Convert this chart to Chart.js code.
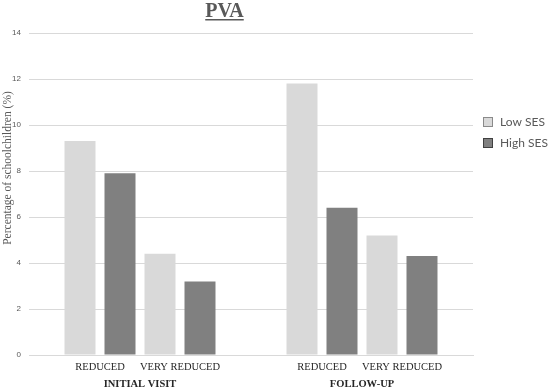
<!DOCTYPE html>
<html><head><meta charset="utf-8">
<script src="https://cdn.jsdelivr.net/npm/chart.js@4"></script>
<style>html,body{margin:0;padding:0;background:#fff}#wrap{width:550px;height:391px}</style>
</head><body><div id="wrap"><canvas id="c" width="550" height="391"></canvas></div>
<script>
// ---- data ----
const groups = ["INITIAL VISIT", "FOLLOW-UP"];
const subcategories = ["REDUCED", "VERY REDUCED"];
const seriesNames = ["Low SES", "High SES"];
// order: [group0-sub0, group0-sub1, group1-sub0, group1-sub1]
const lowSES = [9.3, 4.4, 11.8, 5.2];
const highSES = [7.9, 3.2, 6.4, 4.3];
const yTicks = [0, 2, 4, 6, 8, 10, 12, 14];
const chartTitle = "PVA";
const yTitle = "Percentage of schoolchildren (%)";

// ---- styles ----
const seriesColors = ["#d9d9d9", "#808080"];
const legendBorders = ["#8a8a8a", "#404040"];
const seriesValues = [lowSES, highSES];

const datasets = [];
subcategories.forEach((sub, s) => {
  seriesNames.forEach((name, k) => {
    datasets.push({
      label: name + " - " + sub,
      data: groups.map((g, gi) => seriesValues[k][gi * subcategories.length + s]),
      backgroundColor: seriesColors[k],
      borderWidth: 0,
      categoryPercentage: 0.7207,
      barPercentage: 0.775
    });
  });
});

const textGray = "#595959";

const decor = {
  id: "decor",
  afterDraw(chart) {
    const ctx = chart.ctx;
    const ca = chart.chartArea;
    ctx.save();
    // title
    ctx.font = "bold 20px 'Liberation Serif'";
    ctx.fillStyle = textGray;
    ctx.textAlign = "center";
    ctx.textBaseline = "alphabetic";
    const tx = 224.5, ty = 17;
    ctx.fillText(chartTitle, tx, ty);
    const w = ctx.measureText(chartTitle).width;
    ctx.fillRect(tx - w / 2, ty + 2, w, 1.5);
    // y title
    ctx.save();
    ctx.translate(8, 168);
    ctx.rotate(-Math.PI / 2);
    ctx.font = "11.5px 'Liberation Serif'";
    ctx.textBaseline = "middle";
    ctx.fillText(yTitle, 0, 0);
    ctx.restore();
    // subcategory labels
    ctx.font = "10.5px 'Liberation Serif'";
    ctx.fillStyle = "#262626";
    ctx.textBaseline = "middle";
    groups.forEach((g, gi) => {
      subcategories.forEach((sub, s) => {
        const a = chart.getDatasetMeta(s * seriesNames.length).data[gi];
        const b = chart.getDatasetMeta(s * seriesNames.length + seriesNames.length - 1).data[gi];
        ctx.fillText(sub, (a.x + b.x) / 2, ca.bottom + 12);
      });
    });
    // legend
    ctx.font = "12px Lato";
    ctx.textAlign = "left";
    seriesNames.forEach((name, k) => {
      const y = 117 + k * 21;
      ctx.fillStyle = seriesColors[k];
      ctx.fillRect(483, y, 10, 10);
      ctx.strokeStyle = legendBorders[k];
      ctx.lineWidth = 1;
      ctx.strokeRect(483.5, y + 0.5, 9, 9);
      ctx.fillStyle = textGray;
      ctx.fillText(name, 500, y + 5.5);
    });
    ctx.restore();
  }
};

new Chart(document.getElementById("c"), {
  type: "bar",
  data: { labels: groups, datasets },
  options: {
    responsive: false,
    animation: false,
    layout: { padding: { top: 33, right: 77, left: 0, bottom: 0 } },
    plugins: { legend: { display: false }, tooltip: { enabled: false }, title: { display: false } },
    scales: {
      x: {
        grid: { display: false, drawTicks: false },
        border: { display: true, color: "#d9d9d9", width: 1 },
        ticks: { font: { family: "'Liberation Serif'", size: 10.5, weight: "bold" }, color: "#262626", padding: 23 },
        afterFit(s) { s.height = 36; }
      },
      y: {
        min: 0, max: 14,
        afterBuildTicks(s) { s.ticks = yTicks.map(v => ({ value: v })); },
        grid: { color: "#d9d9d9", lineWidth: 1, drawTicks: false },
        border: { display: false },
        ticks: { font: { family: "'Liberation Sans'", size: 8 }, color: textGray, padding: 8 },
        afterFit(s) { s.width = 29; }
      }
    }
  },
  plugins: [decor]
});
</script>
</body></html>
